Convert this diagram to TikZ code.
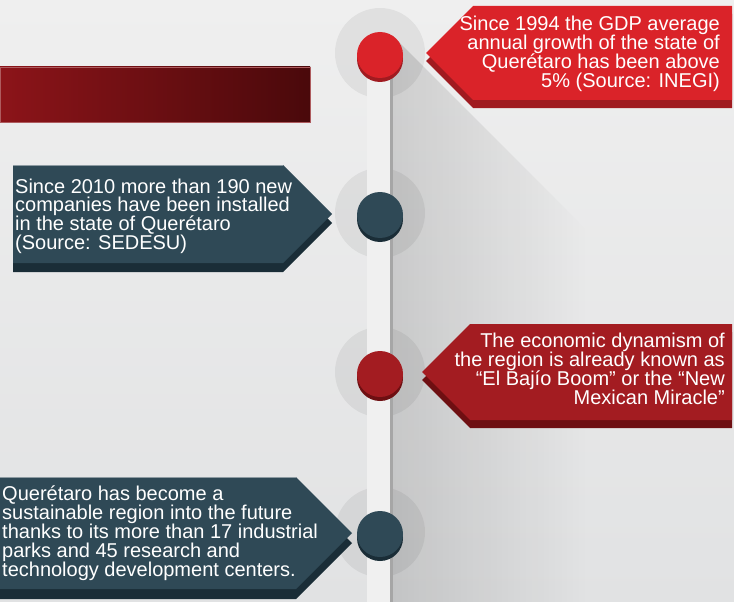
\documentclass[tikz,border=0pt]{standalone}
\usepackage{fontspec}
\setmainfont{Liberation Sans}
\usetikzlibrary{positioning,fadings}
\definecolor{bgtop}{HTML}{EFEFEF}
\definecolor{bgbot}{HTML}{E1E2E3}
\definecolor{barlight}{HTML}{F0F0F0}
\definecolor{barline}{HTML}{A6A6A6}
\definecolor{redA}{HTML}{DA2329}
\definecolor{redAd}{HTML}{A01B20}
\definecolor{redB}{HTML}{A31C21}
\definecolor{redBd}{HTML}{6E0F12}
\definecolor{slate}{HTML}{2F4956}
\definecolor{slated}{HTML}{1A2D37}
\definecolor{bandL}{HTML}{8C1419}
\definecolor{bandR}{HTML}{4A090B}
\newcommand{\tightlines}{\lineskiplimit=-20pt\relax}

\begin{document}
\begin{tikzpicture}[x=1pt,y=-1pt]
	\tikzstyle{halo}=[fill=black, fill opacity=0.06]
	\tikzstyle{txt}=[inner sep=0pt, text=white, font={\fontsize{20}{19}\selectfont\tightlines}]
	
	\useasboundingbox (0,0) rectangle (734,602);
	\shade[top color=bgtop, bottom color=bgbot] (0,0) rectangle (734,602);
	
	% long shadow of the timeline
	\fill[black, opacity=0.13, path fading=east] (393,36) -- (587,230) -- (587,602) -- (393,602) -- cycle;
	
	\foreach \y in {53,213,372,532}
		\fill[halo] (380,\y) circle (45);
	
	\fill[barlight] (367,55) rectangle (390,602);
	\fill[barline] (390,55) rectangle (393,602);
	
	% title band
	\shade[left color=bandL, right color=bandR] (0,67) rectangle (310,122);
	\draw[bandL!70!white, line width=0.6pt] (0,67) rectangle (310,122);
	
	% callouts
	\fill[redAd] (473,14) -- (732,14) -- (732,108) -- (473,108) -- (426,61) -- cycle;
	\fill[redA] (473,6) -- (732,6) -- (732,100) -- (473,100) -- (426,53) -- cycle;
	
	\fill[slated] (13,174) -- (283,174) -- (332,223) -- (283,272) -- (13,272) -- cycle;
	\fill[slate] (13,165) -- (283,165) -- (332,214) -- (283,263) -- (13,263) -- cycle;
	\draw[slate!55!white, line width=0.7pt] (13,165.3) -- (283,165.3);
	
	\fill[redBd] (470,332) -- (732,332) -- (732,428) -- (470,428) -- (422,380) -- cycle;
	\fill[redB] (470,324) -- (732,324) -- (732,420) -- (470,420) -- (422,372) -- cycle;
	
	\fill[slated] (0,487) -- (296,487) -- (352,543) -- (296,599) -- (0,599) -- cycle;
	\fill[slate] (0,477) -- (296,477) -- (352,533) -- (296,589) -- (0,589) -- cycle;
	\draw[slate!55!white, line width=0.7pt] (0,477.3) -- (296,477.3);
	
	% dots on the timeline
	\fill[redAd] (380,59) circle (23);
	\fill[redA] (380,55) circle (23);
	\fill[slated] (380,219) circle (23);
	\fill[slate] (380,215) circle (23);
	\fill[redBd] (380,378) circle (23);
	\fill[redB] (380,374) circle (23);
	\fill[slated] (380,538) circle (23);
	\fill[slate] (380,534) circle (23);
	
	\node[txt, align=right, anchor=north east] (gdp) at (720,15.5)
		{Since 1994 the GDP average\\annual growth of the state of\\Querétaro has been above\\5\% (Source: INEGI)};
	\node[txt, align=left, anchor=north west, font={\fontsize{20}{18.7}\selectfont\tightlines}] (companies) at (15,178.5)
		{Since 2010 more than 190 new\\companies have been installed\\in the state of Querétaro\\(Source: SEDESU)};
	\node[txt, align=right, anchor=north east] (boom) at (725,332.5)
		{The economic dynamism of\\the region is already known as\\“El Bajío Boom” or the “New\\Mexican Miracle”};
	\node[txt, align=left, anchor=north west] (parks) at (2,486)
		{Querétaro has become a\\sustainable region into the future\\thanks to its more than 17 industrial\\parks and 45 research and\\technology development centers.};
\end{tikzpicture}
\end{document}
